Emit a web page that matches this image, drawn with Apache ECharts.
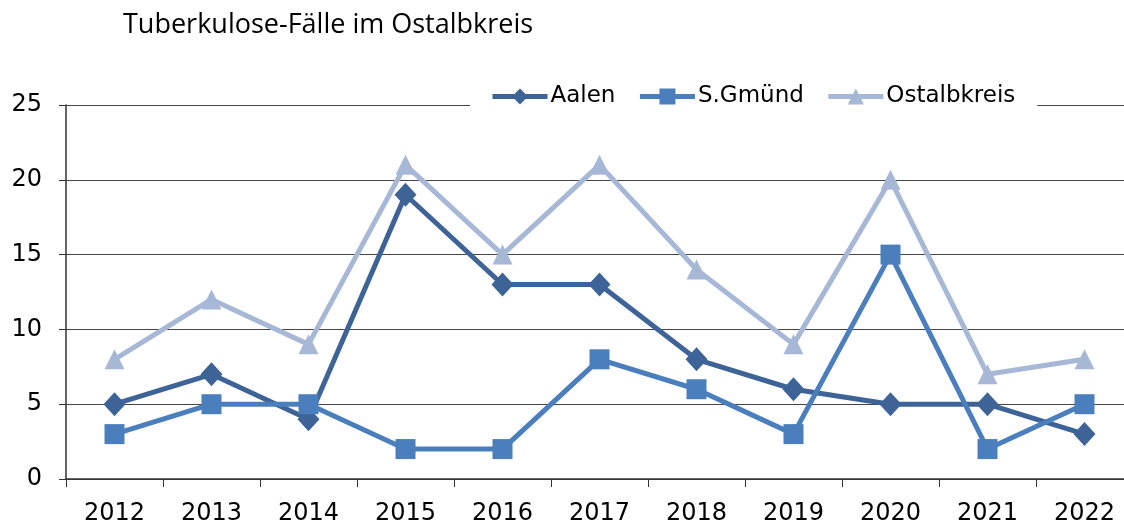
<!DOCTYPE html>
<html><head><meta charset="utf-8">
<script src="https://cdn.jsdelivr.net/npm/echarts@6/dist/echarts.min.js"></script>
<style>html,body{margin:0;padding:0;background:#fff}#c{width:1124px;height:526px}</style>
</head><body><div id="c"></div>
<script>
const years = ['2012','2013','2014','2015','2016','2017','2018','2019','2020','2021','2022'];
const aalen = [5,7,4,19,13,13,8,6,5,5,3];
const gmuend = [3,5,5,2,2,8,6,3,15,2,5];
const ostalb = [8,12,9,21,15,21,14,9,20,7,8];
const yTicks = {min:0, max:25, interval:5};
const colors = {aalen:'#3E6497', gmuend:'#4A7EBD', ostalb:'#A7B8D7'};
const font = 'DejaVu Sans';
const chart = echarts.init(document.getElementById('c'), null, {renderer:'canvas'});
function mk(name, data, color, symbol, size){
  return {name, type:'line', data, symbol, symbolSize:size, showSymbol:true,
    lineStyle:{width:5, color}, itemStyle:{color}, emphasis:{disabled:true}};
}
chart.setOption({
  animation:false,
  title:{text:'Tuberkulose-Fälle im Ostalbkreis', left:118, top:7,
    textStyle:{fontFamily:'Open Sans', fontWeight:'normal', fontSize:27, color:'#000'}},
  legend:{left:470, top:82, backgroundColor:'#fff', padding:[3,22,3,20],
    itemWidth:55, itemHeight:20, itemGap:22,
    lineStyle:{width:5},
    textStyle:{fontFamily:font, fontSize:23, color:'#000', padding:[0,0,0,-2]},
    data:['Aalen','S.Gmünd','Ostalbkreis']},
  grid:{left:66, top:105, width:1067, height:374, containLabel:false, outerBoundsMode:'none'},
  xAxis:{type:'category', data:years, boundaryGap:true,
    axisLine:{lineStyle:{color:'#333', width:1.5}},
    axisTick:{show:true, length:8, lineStyle:{color:'#333'}},
    axisLabel:{fontFamily:font, fontSize:24, color:'#000', margin:23},
    splitLine:{show:false}},
  yAxis:{type:'value', min:yTicks.min, max:yTicks.max, interval:yTicks.interval,
    axisLine:{show:true, lineStyle:{color:'#333', width:1.5}},
    axisTick:{show:true, length:7, lineStyle:{color:'#333'}},
    axisLabel:{fontFamily:font, fontSize:24, color:'#000', margin:24},
    splitLine:{show:true, lineStyle:{color:'#444', width:1.2}}},
  series:[
    mk('Aalen', aalen, colors.aalen, 'diamond', [22,24]),
    mk('S.Gmünd', gmuend, colors.gmuend, 'rect', 20),
    mk('Ostalbkreis', ostalb, colors.ostalb, 'triangle', 20)
  ]
});
</script></body></html>
